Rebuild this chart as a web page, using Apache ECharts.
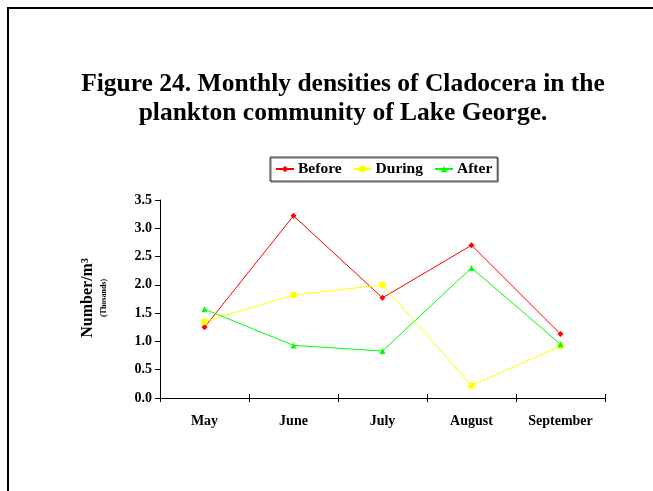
<!DOCTYPE html>
<html>
<head>
<meta charset="utf-8">
<script src="https://cdn.jsdelivr.net/npm/echarts@6/dist/echarts.min.js"></script>
<style>
  html, body { margin: 0; padding: 0; background: #fff; }
  #chart { width: 653px; height: 491px; }
</style>
</head>
<body>
<div id="chart"></div>
<script>
var months = ['May', 'June', 'July', 'August', 'September'];
var before = [1.25, 3.22, 1.77, 2.70, 1.13];
var during = [1.35, 1.82, 2.00, 0.22, 0.92];
var after = [1.57, 0.93, 0.83, 2.30, 0.95];

var serif = '"Liberation Serif", "DejaVu Serif", serif';

var myChart = echarts.init(document.getElementById('chart'));
var option = {
    backgroundColor: '#fff',
    animation: false,
    title: {
        text: 'Figure 24. Monthly densities of Cladocera in the\nplankton community of Lake George.',
        left: 338,
        top: 65,
        textAlign: 'center',
        textStyle: {
            fontFamily: serif,
            fontSize: 25.5,
            fontWeight: 'bold',
            color: '#000',
            lineHeight: 29
        }
    },
    graphic: [
        // frame (right and bottom edges fall outside the picture)
        {
            type: 'rect',
            shape: { x: 8, y: 8, width: 700, height: 600 },
            style: { fill: 'none', stroke: '#000', lineWidth: 2 }
        },
        {
            type: 'text',
            x: 88,
            y: 298,
            rotation: Math.PI / 2,
            style: {
                text: 'Number/m³',
                font: 'bold 16px ' + serif,
                fill: '#000',
                align: 'center',
                verticalAlign: 'middle'
            }
        },
        {
            type: 'text',
            x: 104,
            y: 298,
            rotation: Math.PI / 2,
            style: {
                text: '(Thosands)',
                font: 'bold 8px ' + serif,
                fill: '#000',
                align: 'center',
                verticalAlign: 'middle'
            }
        }
    ],
    legend: {
        left: 270,
        top: 157,
        itemWidth: 18,
        itemHeight: 8,
        itemGap: 11,
        padding: [4, 5, 4, 5],
        borderColor: '#333',
        borderWidth: 1,
        shadowColor: '#666',
        shadowOffsetX: 1,
        shadowOffsetY: 1,
        textStyle: {
            fontFamily: serif,
            fontSize: 15.5,
            fontWeight: 'bold',
            color: '#000',
            padding: [0, 0, 0, -1]
        },
        data: ['Before', 'During', 'After']
    },
    grid: {
        left: 160,
        right: 48,
        top: 200,
        bottom: 93
    },
    xAxis: [
        {
            type: 'category',
            data: months,
            boundaryGap: true,
            axisLine: { lineStyle: { color: '#000', width: 1 } },
            axisTick: { show: true, length: 4, lineStyle: { color: '#000' } },
            axisLabel: {
                margin: 16,
                fontFamily: serif,
                fontSize: 14,
                fontWeight: 'bold',
                color: '#000'
            },
            splitLine: { show: false }
        },
        {
            type: 'category',
            data: months,
            position: 'bottom',
            boundaryGap: true,
            axisLine: { show: false },
            axisTick: { show: true, inside: true, length: 4, lineStyle: { color: '#000' } },
            axisLabel: { show: false },
            splitLine: { show: false }
        }
    ],
    yAxis: {
        type: 'value',
        min: 0,
        max: 3.5,
        interval: 0.5,
        axisLine: { show: true, lineStyle: { color: '#000', width: 1 } },
        axisTick: { show: true, length: 5, lineStyle: { color: '#000' } },
        axisLabel: {
            margin: 8,
            fontFamily: serif,
            fontSize: 14,
            fontWeight: 'bold',
            color: '#000',
            formatter: function (v) { return v.toFixed(1); }
        },
        splitLine: { show: false }
    },
    series: [
        {
            name: 'Before',
            type: 'line',
            data: before,
            color: '#ff0000',
            symbol: 'diamond',
            symbolSize: 6,
            lineStyle: { width: 1 }
        },
        {
            name: 'During',
            type: 'line',
            data: during,
            color: '#ffff00',
            symbol: 'rect',
            symbolSize: 6,
            lineStyle: { width: 1 }
        },
        {
            name: 'After',
            type: 'line',
            data: after,
            color: '#00ff00',
            symbol: 'triangle',
            symbolSize: 6,
            lineStyle: { width: 1 }
        }
    ]
};
myChart.setOption(option);
window.addEventListener('resize', function () {
    myChart.resize();
});
</script>
</body>
</html>
